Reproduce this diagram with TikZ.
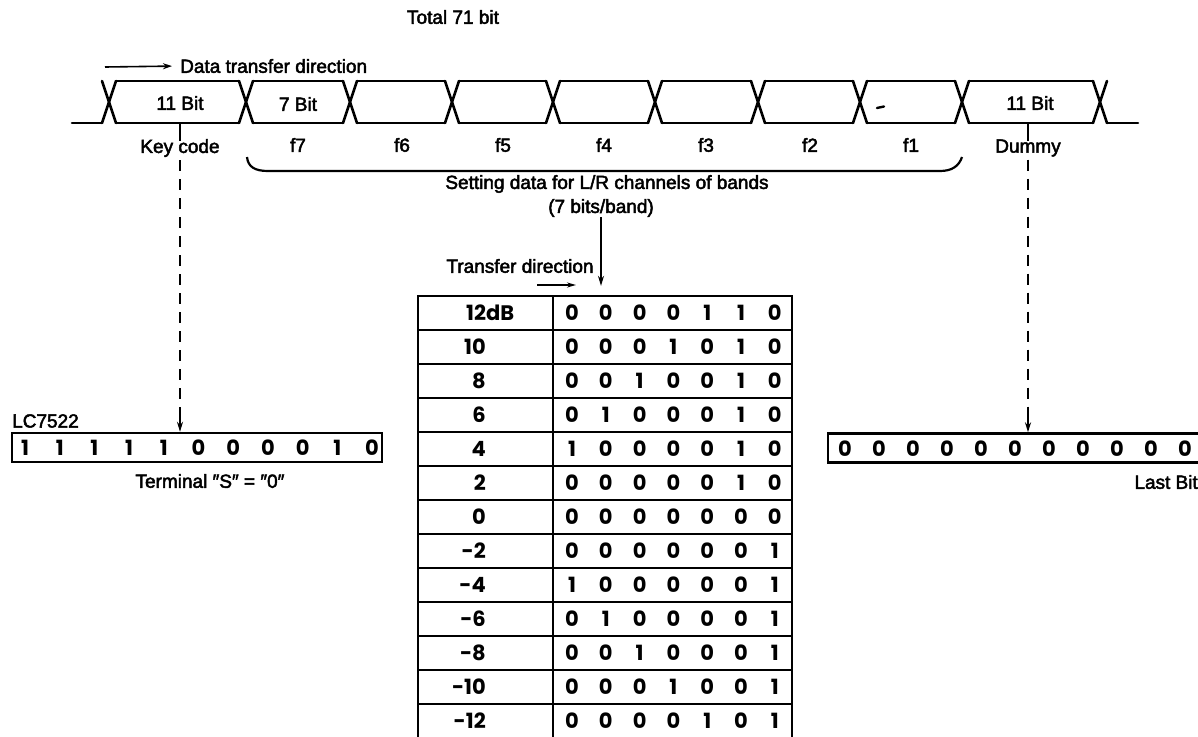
\documentclass[tikz,border=0pt]{standalone}
\usepackage{fontspec}
\usetikzlibrary{arrows.meta}
\newfontfamily\lblfam{Liberation Sans}[FakeBold=2.5]
\newfontfamily\digfam{Poppins}
\newcommand{\lblf}{\lblfam\fontsize{19}{22}\selectfont}
\newcommand{\digf}{\digfam\bfseries\fontsize{21}{22}\selectfont}
\begin{document}
\begin{tikzpicture}[x=1pt,y=-1pt,
  wave/.style={line width=2.6pt, line cap=round, line join=round},
  lbl/.style={font=\lblf, inner sep=0pt},
  dig/.style={font=\digf, inner sep=0pt, anchor=base},
  bitbox/.style={draw, line width=2.4pt, minimum height=29pt, inner sep=0pt},
  cell/.style={draw, line width=2.3pt, minimum height=34pt, inner sep=0pt},
  dashline/.style={line width=2pt, dash pattern=on 11pt off 8pt},
  arr/.style={-{Stealth[length=10pt,width=6pt]}, line width=1.8pt}]
\useasboundingbox (0,0) rectangle (1198,736);

% ---------- waveform ----------
\def\T{81}\def\B{123}\def\h{7}
\draw[wave] (72,\B) -- (102,\B);
\draw[wave] (1107,\B) -- (1138,\B);
\foreach \c in {109,246,350,452,553,655,758,860,962,1100}{
  \draw[wave] (\c-\h,\T) -- (\c+\h,\B);
  \draw[wave] (\c-\h,\B) -- (\c+\h,\T);
}
\foreach \a/\b in {109/246,246/350,350/452,452/553,553/655,655/758,758/860,860/962,962/1100}{
  \draw[wave] (\a+\h,\T) -- (\b-\h,\T);
  \draw[wave] (\a+\h,\B) -- (\b-\h,\B);
}
\draw[line width=2.4pt, line cap=round] (877,108) -- (884,106.5);

% ---------- top labels ----------
\node[lbl] (total) at (453,17) {Total 71 bit};
\coordinate (dtA) at (105,67);
\node[lbl, anchor=west] (dtd) at (180,66) {Data transfer direction};
\draw[-{Stealth[length=9pt,width=6pt]}, line width=1.6pt, shorten >=8pt] (dtA) -- (dtd.west);

\node[lbl] (kbit) at (180,103) {11 Bit};
\node[lbl] (sbit) at (298,104) {7 Bit};
\node[lbl] (dbit) at (1030,103) {11 Bit};

\node[lbl] (keycode) at (180,148) {Key code};
\foreach \n/\x in {f7/298,f6/402,f5/503,f4/604,f3/706,f2/810,f1/911}{
  \node[lbl] (\n) at (\x,145) {\n};
}
\node[lbl] (dummy) at (1028,148) {Dummy};

\coordinate (kcTop) at (180,\B);
\coordinate (duTop) at (1028,\B);
\draw[line width=2pt] (kcTop) -- ([yshift=-2pt]keycode.north -| kcTop);
\draw[line width=2pt] (duTop) -- ([yshift=-2pt]dummy.north -| duTop);

% brace
\draw[line width=2.2pt] (247,157) .. controls (248,167) and (255,171) .. (268,171)
   -- (940,171) .. controls (952,171) and (959,166) .. (962,157);

\node[lbl] (setting) at (607,184) {Setting data for L/R channels of bands};
\node[lbl] (bits) at (601,208) {(7 bits/band)};
\node[lbl] (tdir) at (520,266) {Transfer direction};
\coordinate (tdA) at (537,285);
\coordinate (tdB) at (576,285);
\draw[-{Stealth[length=9pt,width=5pt]}, line width=1.6pt] (tdA) -- (tdB);

% ---------- table ----------
\foreach \lab/\bitsrow [count=\i from 0] in {
  12dB/{0,0,0,0,1,1,0}, 10/{0,0,0,1,0,1,0}, 8/{0,0,1,0,0,1,0},
  6/{0,1,0,0,0,1,0}, 4/{1,0,0,0,0,1,0}, 2/{0,0,0,0,0,1,0},
  0/{0,0,0,0,0,0,0}, -2/{0,0,0,0,0,0,1}, -4/{1,0,0,0,0,0,1},
  -6/{0,1,0,0,0,0,1}, -8/{0,0,1,0,0,0,1}, -10/{0,0,0,1,0,0,1},
  -12/{0,0,0,0,1,0,1}}{
  \pgfmathsetmacro{\yc}{296+34*(\i+0.5)}
  \node[cell, minimum width=135pt] (cL\i) at (485.5,\yc) {};
  \node[cell, minimum width=239pt] (cR\i) at (672.5,\yc) {};
  \ifnum\i=0
    \node[dig, anchor=base west] (lab\i) at (466,\yc+7.5) {\lab};
  \else
    \node[dig, anchor=base east] (lab\i) at (486,\yc+7.5) {\lab};
  \fi
  \foreach \b [count=\j from 0] in \bitsrow {
    \node[dig] (d\i-\j) at ({572+33.8*\j},\yc+7.5) {\b};
  }
}
\draw[arr, shorten >=9pt] (bits.south) -- (bits.south |- cR0.north);

% ---------- LC7522 box ----------
\node[lbl, anchor=west] (lc) at (12,421) {LC7522};
\node[bitbox, minimum width=370pt] (lcbox) at (197,447.5) {};
\foreach \b [count=\j from 0] in {1,1,1,1,1,0,0,0,0,1,0}{
  \node[dig] (l\j) at ({25+34.7*\j},455) {\b};
}
\node[lbl] (term) at (210,481) {Terminal ″S″ = ″0″};
\draw[dashline] ([yshift=-3pt]keycode.south -| kcTop) -- ([yshift=14pt]lcbox.north -| kcTop);
\draw[arr] ([yshift=16pt]lcbox.north -| kcTop) -- (lcbox.north -| kcTop);

% ---------- dummy box ----------
\node[bitbox, minimum width=372pt] (dbox) at (1014,448) {};
\foreach \b [count=\j from 0] in {0,0,0,0,0,0,0,0,0,0,0}{
  \node[dig] (r\j) at ({845+34*\j},456) {\b};
}
\node[lbl, anchor=east] (last) at (1198,482) {Last Bit};
\draw[dashline] ([yshift=-3pt]dummy.south -| duTop) -- ([yshift=14pt]dbox.north -| duTop);
\draw[arr] ([yshift=16pt]dbox.north -| duTop) -- (dbox.north -| duTop);
\end{tikzpicture}
\end{document}
